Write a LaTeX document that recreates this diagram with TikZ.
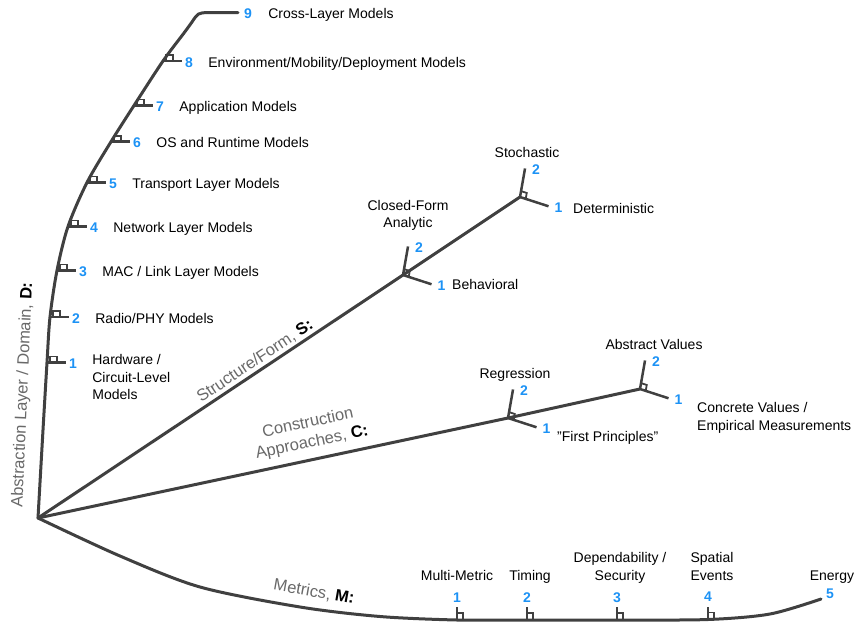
\documentclass[tikz,border=0pt]{standalone}
\usepackage{fontspec}
\setmainfont{Liberation Sans}
\usetikzlibrary{positioning}
\definecolor{axisgray}{RGB}{64,64,64}
\definecolor{numblue}{RGB}{28,146,245}
\definecolor{labelgray}{RGB}{105,105,105}

\tikzset{
    axisline/.style={draw=axisgray, line width=3pt, line cap=round, line join=round},
    branchline/.style={draw=axisgray, line width=2.5pt},
    markline/.style={draw=axisgray, line width=1.8pt},
    num/.style={text=numblue, font=\fontsize{14}{17}\selectfont\bfseries, inner sep=0pt},
    lbl/.style={font=\fontsize{14}{17.5}\selectfont, inner sep=0pt},
    axislbl/.style={text=labelgray, font=\fontsize{16.5}{20}\selectfont, inner sep=0pt},
}

\begin{document}
\begin{tikzpicture}[x=1pt, y=-1pt]
    \useasboundingbox (0,0) rectangle (857,622);
    \coordinate (o) at (38,518);

    % domain axis
    \coordinate (d1) at (47,362.5);
    \coordinate (d2) at (50,317);
    \coordinate (d3) at (57,270.5);
    \coordinate (d4) at (68,226.5);
    \coordinate (d5) at (87,182.5);
    \coordinate (d6) at (111,141.7);
    \coordinate (d7) at (134,105.5);
    \coordinate (d8) at (163,61);
    \coordinate (d9) at (238,12.5);
    \draw[axisline] plot[smooth] coordinates {(o) (43,430) (d1) (d2) (d3) (d4) (d5) (d6) (d7) (d8) (184,33) (192,22)}
        .. controls (198,13) .. (208,12.5) -- (d9);
    \foreach \i/\txt in {1/{Hardware /}, 2/{Radio/PHY Models},
        3/{MAC / Link Layer Models}, 4/{Network Layer Models}, 5/{Transport Layer Models},
        6/{OS and Runtime Models}, 7/{Application Models},
        8/{Environment/Mobility/Deployment Models}} {
        \draw[branchline] (d\i) -- ++(19,0) coordinate (dt\i);
        \draw[markline] (d\i) ++(3,0) -- ++(0,-6) -- ++(7,0) -- ++(0,6);
        \node[num, anchor=base west] (dn\i) at ([shift={(3,6)}]dt\i) {\i};
        \node[lbl, anchor=base west] (dl\i) at ([shift={(15,{-4*(\i==1)})}]dn\i.base east) {\txt};
    }
    \node[lbl, anchor=base west] (dl1b) at ([shift={(0,17.5)}]dl1.base west) {Circuit-Level};
    \node[lbl, anchor=base west] (dl1c) at ([shift={(0,17.5)}]dl1b.base west) {Models};
    \node[num, anchor=base west] (dn9) at ([shift={(6,6)}]d9) {9};
    \node[lbl, anchor=base west] (dl9) at ([shift={(16,0)}]dn9.base east) {Cross-Layer Models};

    % structure and construction axes
    \coordinate (s1) at (403,275);
    \coordinate (s2) at (520,197);
    \coordinate (c1) at (508,418);
    \coordinate (c2) at (640,389);
    \draw[axisline] (o) -- (s1) -- (s2);
    \draw[axisline] (o) -- (c1) -- (c2);
    \foreach \f in {s1,s2,c1,c2} {
        \draw[branchline] (\f) -- ++(-80:29) coordinate (\f-up);
        \draw[branchline] (\f) -- ++(18:30) coordinate (\f-rt);
        \draw[markline] (\f) ++(-80:6) -- ++(18:6) -- ++(100:6);
        \node[num, anchor=base west] (\f-n2) at ([shift={(7,6)}]\f-up) {2};
        \node[num, anchor=base west] (\f-n1) at ([shift={(6,6)}]\f-rt) {1};
    }
    \node[lbl, align=center, anchor=south] (s1-l2) at (408,231) {Closed-Form\\Analytic};
    \node[lbl, anchor=base west] (s1-l1) at (452,289) {Behavioral};
    \node[lbl, anchor=base] (s2-l2) at (527,157) {Stochastic};
    \node[lbl, anchor=base west] (s2-l1) at (573,213) {Deterministic};
    \node[lbl, anchor=base] (c1-l2) at (515,378) {Regression};
    \node[lbl, anchor=base west] (c1-l1) at (557,441) {"First Principles"};
    \node[lbl, anchor=base] (c2-l2) at (654,349) {Abstract Values};
    \node[lbl, anchor=base west, align=left] (c2-l1) at (697,430) {Concrete Values /\\Empirical Measurements};

    % metrics axis
    \coordinate (m1) at (457,620);
    \coordinate (m2) at (527,620);
    \coordinate (m3) at (617,620);
    \coordinate (m4) at (708,619.5);
    \coordinate (m5) at (821,599);
    \draw[axisline] plot[smooth] coordinates {(o) (120,556) (200,587) (300,607) (380,616.5) (m1) (m2) (m3) (m4) (770,614) (m5)};
    \foreach \i in {1,...,4} {
        \draw[branchline] (m\i) -- ++(0,-13) coordinate (mt\i);
        \draw[markline] (m\i) ++(0,-7) -- ++(6,0) -- ++(0,7);
        \node[num, anchor=base] (mn\i) at ([shift={(0,-5)}]mt\i) {\i};
    }
    \node[num, anchor=base west] (mn5) at ([shift={(5,-1)}]m5) {5};
    \node[lbl, anchor=base] (ml1) at (457,580) {Multi-Metric};
    \node[lbl, anchor=base] (ml2) at (530,580) {Timing};
    \node[lbl, anchor=base, align=center] (ml3) at (620,580) {Dependability /\\Security};
    \node[lbl, anchor=base, align=center] (ml4) at (712,580) {Spatial\\Events};
    \node[lbl, anchor=base] (ml5) at (832,580) {Energy};

    % axis names
    \node[axislbl, rotate=87.5] (dlab) at (23,395) {Abstraction Layer / Domain, \textcolor{black}{\textbf{D:}}};
    \node[axislbl, rotate=33.7] (slab) at (255,361) {Structure/Form, \textcolor{black}{\textbf{S:}}};
    \node[axislbl, rotate=12, align=center] (clab) at (310,433) {Construction\\Approaches, \textcolor{black}{\textbf{C:}}};
    \node[axislbl, rotate=-10] (mlab) at (314,592) {Metrics, \textcolor{black}{\textbf{M:}}};
\end{tikzpicture}
\end{document}
